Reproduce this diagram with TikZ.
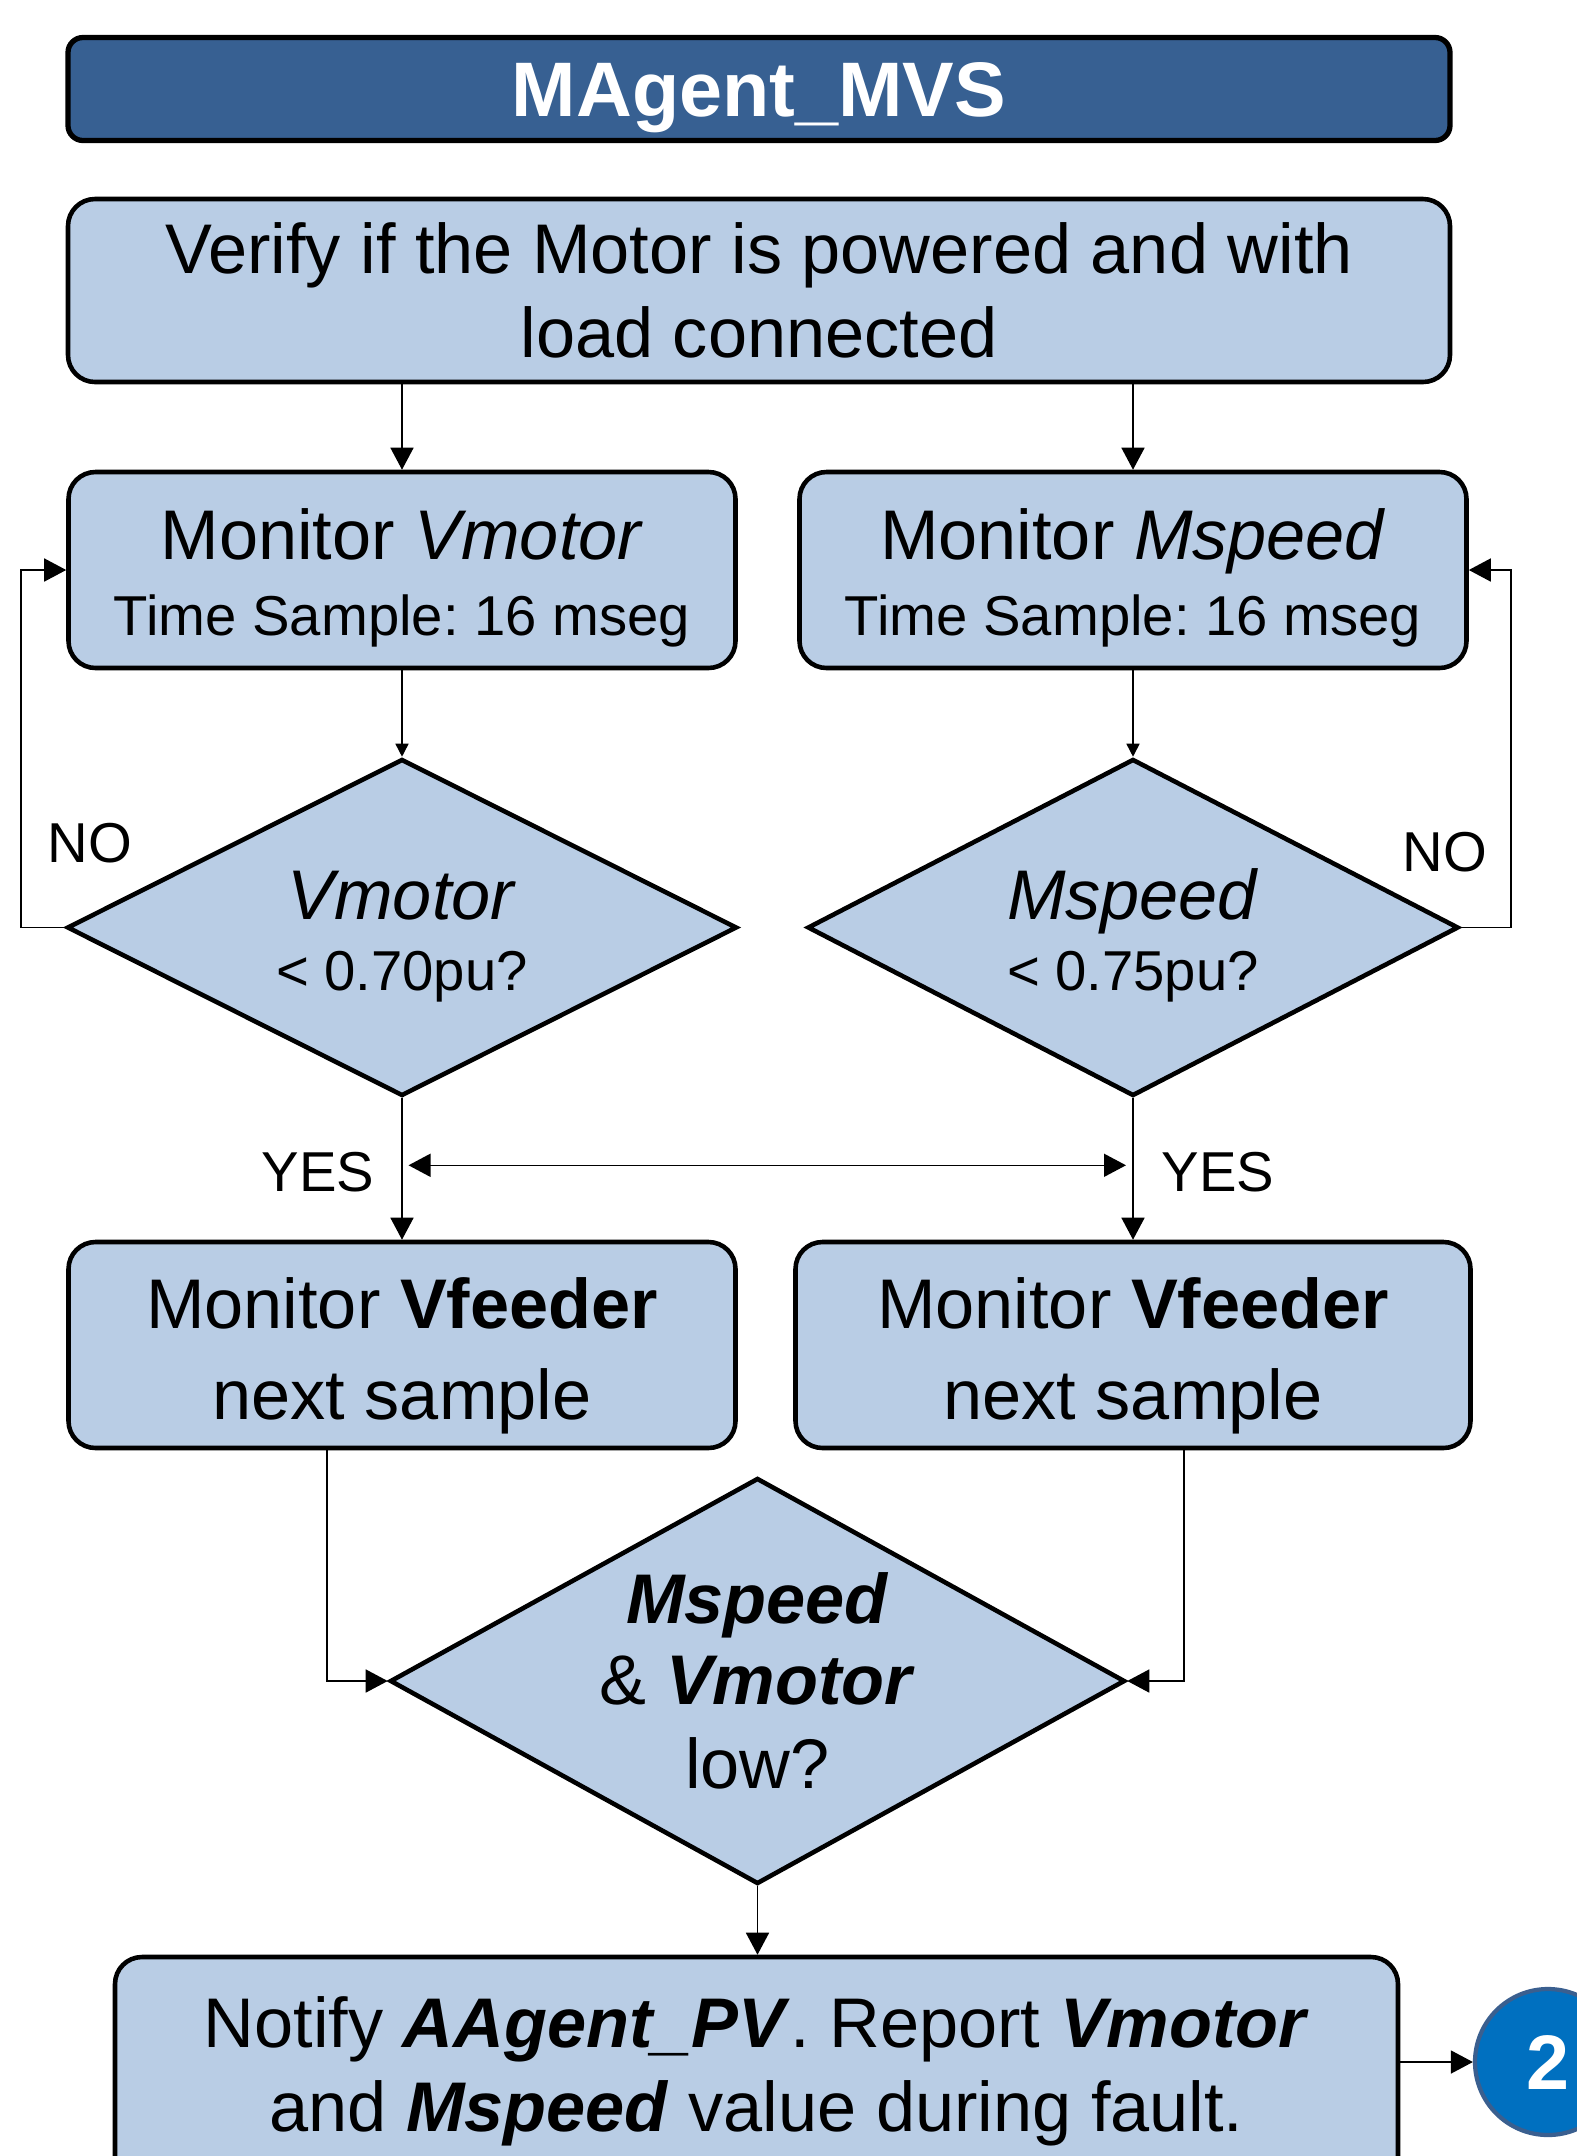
\documentclass[tikz,border=0pt]{standalone}
\usepackage{fontspec}
\setmainfont{Liberation Sans}
\usetikzlibrary{shapes.geometric, positioning, arrows.meta}

\definecolor{boxblue}{HTML}{B9CDE5}
\definecolor{headblue}{HTML}{376092}
\definecolor{circblue}{HTML}{0070C0}
\definecolor{circline}{HTML}{3A5F8F}

\begin{document}
\frenchspacing
\begin{tikzpicture}[node distance = 2cm, on grid,
    every node/.style = {font=\fontsize{20}{24}\selectfont},
    block/.style = {draw, line width=1.3pt, rounded corners=0.27cm, fill=boxblue, align=center, inner sep=0pt},
    decision/.style = {diamond, draw, line width=1.3pt, fill=boxblue, align=center, inner sep=0pt, shape aspect=2},
    tag/.style = {font=\fontsize{16}{19}\selectfont},
    flow/.style = {line width=0.45pt, -{Triangle[length=0.22cm, width=0.23cm]}},
    flowsmall/.style = {line width=0.45pt, -{Triangle[length=0.13cm, width=0.13cm]}},
    flowboth/.style = {line width=0.45pt, {Triangle[length=0.22cm, width=0.23cm]}-{Triangle[length=0.22cm, width=0.23cm]}}]
  \useasboundingbox (0,0) rectangle (15.77,-21.56);

  \node[draw, line width=1.5pt, rounded corners=0.15cm, fill=headblue, text=white,
        minimum width=13.82cm, minimum height=1.03cm, inner sep=0pt,
        font=\bfseries\fontsize{22}{26}\selectfont] (title) at (7.59,-0.89) {\rule{0pt}{20.5pt}MAgent\_MVS};
  \node[block, minimum width=13.82cm, minimum height=1.83cm] (verify) [below=2.015cm of title]
    {Verify if the Motor is powered and with\\ load connected};

  \node[block, minimum width=6.67cm, minimum height=1.96cm] (mv) at (4.02,-5.70)
    {\rule{0pt}{19pt}Monitor \textit{Vmotor}\\[-2.4pt]{\fontsize{16}{19}\selectfont Time Sample: 16 mseg}};
  \node[block, minimum width=6.67cm, minimum height=1.96cm] (ms) [right=7.31cm of mv]
    {\rule{0pt}{19pt}Monitor \textit{Mspeed}\\[-2.4pt]{\fontsize{16}{19}\selectfont Time Sample: 16 mseg}};

  \node[decision, minimum width=6.70cm, minimum height=3.37cm] (dv) [below=3.575cm of mv]
    {\rule{0pt}{19pt}\textit{Vmotor}\\[-3.8pt]{\fontsize{16}{19}\selectfont < 0.70pu?}};
  \node[decision, minimum width=6.51cm, minimum height=3.37cm] (ds) [below=3.575cm of ms]
    {\rule{0pt}{19pt}\textit{Mspeed}\\[-3.8pt]{\fontsize{16}{19}\selectfont < 0.75pu?}};

  \node[block, minimum width=6.67cm, minimum height=2.06cm] (fv) [below=4.175cm of dv]
    {\rule{0pt}{20.6pt}Monitor \textbf{Vfeeder}\\[2pt] next sample};
  \node[block, minimum width=6.75cm, minimum height=2.06cm] (fs) [below=4.175cm of ds]
    {\rule{0pt}{20.6pt}Monitor \textbf{Vfeeder}\\[2pt] next sample};

  \node[decision, shape aspect=1.8, minimum width=7.35cm, minimum height=4.06cm] (dl) at (7.575,-16.81)
    {\textbf{\textit{Mspeed}}\\[-1pt] \& \textbf{\textit{Vmotor}}\\[0pt] low?};

  \node[block, minimum width=12.83cm, minimum height=2.28cm] (notify) at (7.565,-20.71)
    {Notify \textbf{\textit{AAgent\_PV}}. Report \textbf{\textit{Vmotor}}\\ and \textbf{\textit{Mspeed}} value during fault.};
  \node[circle, draw=circline, line width=1.2pt, fill=circblue, text=white, minimum size=1.46cm,
        inner sep=0pt, font=\bfseries\fontsize{22}{26}\selectfont] (c2) at (15.48,-20.62) {2};

  % labels
  \node[tag] (nol) at (0.90,-8.43) {NO};
  \node[tag] (nor) at (14.45,-8.52) {NO};
  \node[tag] (yesl) at (3.18,-11.72) {YES};
  \node[tag] (yesr) at (12.18,-11.72) {YES};

  \path[flow]
    (mv |- verify.south) edge (mv)
    (ms |- verify.south) edge (ms)
    (dv) edge (fv)
    (ds) edge (fs)
    (dl.south) edge (dl.south |- notify.north)
    (notify.east |- c2) edge (c2);
  \path[flowsmall]
    (mv) edge (dv)
    (ms) edge (ds);

  \draw[flow] (dv.west) -- ++(-0.44cm,0) |- (mv.west);
  \draw[flow] (ds.east) -- ++(0.50cm,0) |- (ms.east);
  \draw[flowboth] ([xshift=0.065cm, yshift=-0.67cm]dv.south) -- ([xshift=-0.07cm, yshift=-0.67cm]ds.south);
  \draw[flow] ([xshift=-0.75cm]fv.south) |- (dl.west);
  \draw[flow] ([xshift=0.51cm]fs.south) |- (dl.east);
\end{tikzpicture}
\end{document}
